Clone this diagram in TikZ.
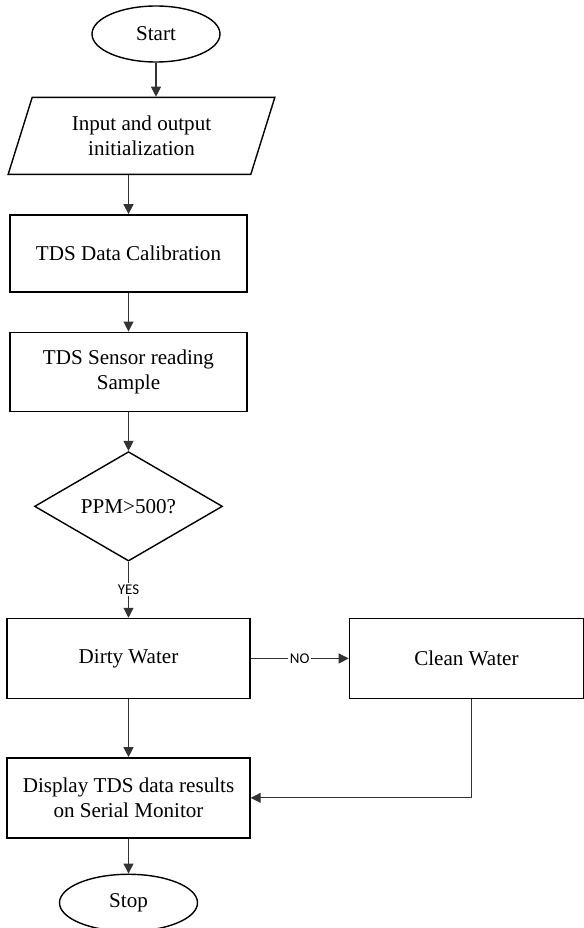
\documentclass[tikz,border=0pt]{standalone}
\usepackage{fontspec}
\setmainfont{Liberation Serif}
\newfontfamily\labelfont{Carlito}
\usetikzlibrary{positioning,shapes.geometric,arrows.meta}

\begin{document}
\begin{tikzpicture}[
    font=\fontsize{12}{14}\selectfont,
    block/.style={
        draw,
        line width=0.8pt,
        minimum width=4.74cm,
        minimum height=1.54cm,
        align=center
    },
    terminal/.style={block, ellipse, minimum width=2.56cm, minimum height=1.12cm},
    io/.style={block, trapezium, trapezium left angle=72, trapezium right angle=108,
        trapezium stretches=true, minimum width=5.34cm},
    decision/.style={block, diamond, minimum width=3.76cm, minimum height=2.06cm, inner sep=0pt},
    arrow/.style={-{Triangle[length=0.2cm, width=0.2cm]}, line width=0.6pt, draw=black!80},
    tag/.style={font=\labelfont\fontsize{8.5}{9}\selectfont, fill=white, inner sep=1pt}
]
\useasboundingbox (0,0) rectangle (11.66,-18.56);

% ============================================================
% MAIN FLOW
% ============================================================
\node[terminal] (start) at (3.12,-0.68) {Start};
\node[io, below=0.68cm of start, xshift=-0.29cm] (init) {Input and output\\initialization};
\node[block, below=0.78cm of init, xshift=-0.26cm] (calib) {TDS Data Calibration};
\node[block, below=0.78cm of calib, minimum height=1.58cm] (sensor) {TDS Sensor reading\\Sample};
\node[decision, below=0.78cm of sensor] (check) {PPM>500?};
\node[block, below=1.12cm of check, minimum width=4.86cm, minimum height=1.6cm] (dirty) {Dirty Water};
\node[block, right=1.96cm of dirty, minimum width=4.68cm, minimum height=1.6cm] (clean) {Clean Water};
\node[block, below=1.16cm of dirty, minimum width=4.86cm, minimum height=1.6cm] (show) {Display TDS data results\\on Serial Monitor};
\node[terminal, below=0.7cm of show, minimum width=2.76cm, minimum height=1.14cm] (stop) {Stop};

\draw[arrow] (start.south) -- (start.south |- init.north);
\draw[arrow] (calib.north |- init.south) -- (calib.north);
\draw[arrow] (calib) -- (sensor);
\draw[arrow] (sensor) -- (check);
\draw[arrow] (check) -- node[tag] {YES} (dirty);
\draw[arrow] (dirty) -- node[tag] {NO} (clean);
\draw[arrow] (dirty) -- (show);
\draw[arrow] ([xshift=0.1cm]clean.south) |- (show.east);
\draw[arrow] (show) -- (stop);

\end{tikzpicture}
\end{document}
